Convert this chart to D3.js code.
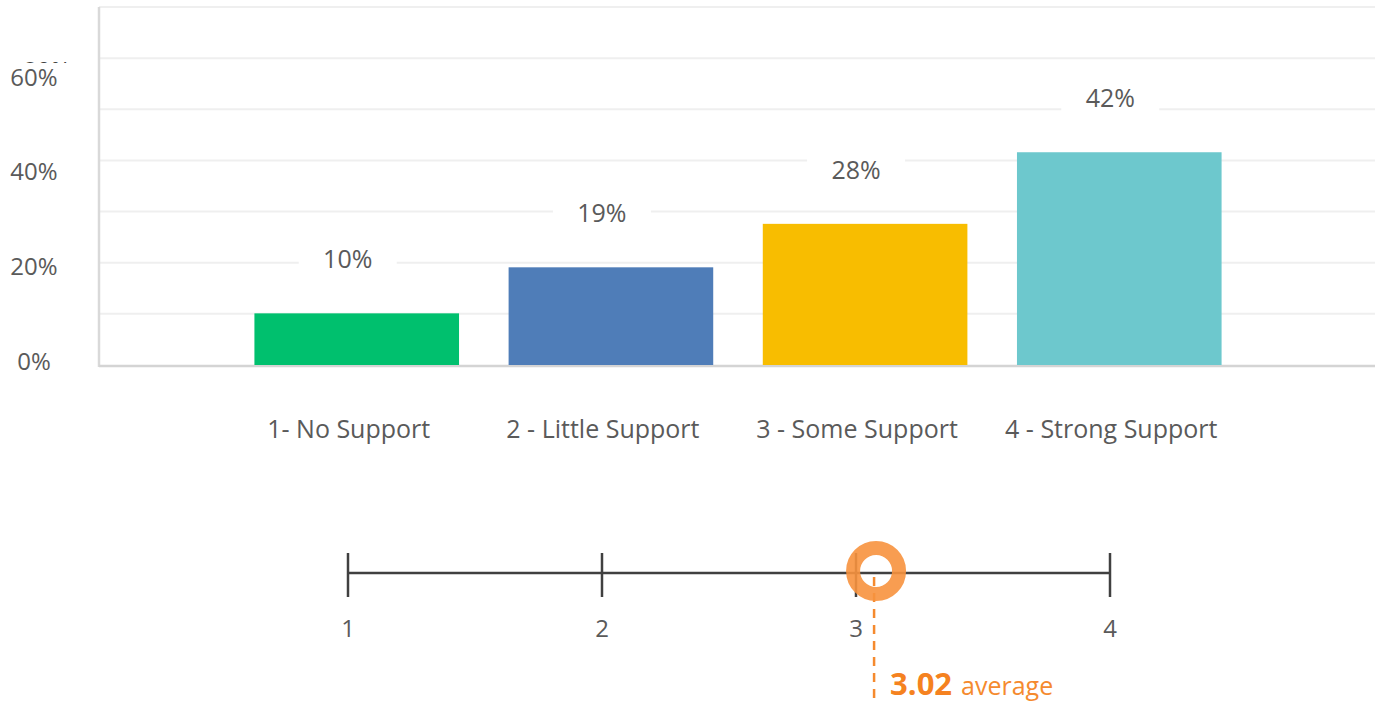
<!DOCTYPE html>
<html><head><meta charset="utf-8">
<script src="https://cdn.jsdelivr.net/npm/d3@7"></script>
<style>
html,body{margin:0;padding:0;background:#fff;}
svg{display:block;font-family:"Open Sans",sans-serif;}
</style></head>
<body><svg id="c" width="1378" height="704"></svg>
<script>
const categories = ["1- No Support","2 - Little Support","3 - Some Support","4 - Strong Support"];
const values = [10.1, 19.1, 27.6, 41.6];
const colors = ["#00c06e","#4f7db8","#f8bd00","#6dc8cd"];
const yTickLabels = [0, 20, 40, 60];
const gridValues = [0,10,20,30,40,50,60,70];
const scaleTicks = [1,2,3,4];
const average = 3.02;

const svg = d3.select("#c");
const y = d3.scaleLinear().domain([0,70]).range([365,7]);
const yLab = d3.scaleLinear().domain([0,60]).range([360,76]);
const x = d3.scaleBand().domain(categories).range([229,1247]).paddingInner(0.195).paddingOuter(0.1);
const plotL = 99, plotR = 1375;
const txt = "#5a5a5a";

// gridlines
svg.append("g").selectAll("line").data(gridValues.filter(d=>d>0)).join("line")
  .attr("x1",plotL).attr("x2",plotR).attr("y1",d=>y(d)).attr("y2",d=>y(d))
  .attr("stroke","#efefef").attr("stroke-width",2);

// y axis line
svg.append("line").attr("x1",plotL).attr("x2",plotL).attr("y1",y(70)).attr("y2",y(0)+2)
  .attr("stroke","#d9d9d9").attr("stroke-width",2.5);
// baseline
svg.append("line").attr("x1",plotL).attr("x2",plotR).attr("y1",y(0)+1).attr("y2",y(0)+1)
  .attr("stroke","#d4d4d4").attr("stroke-width",2.5);

// partially hidden overlapping tick label (80%) as in the source
svg.append("text").attr("x",47).attr("y",yLab(60)-7).attr("text-anchor","middle")
  .attr("dominant-baseline","central").attr("font-size",24).attr("fill","#404040").text("80%");
// y labels
const yl = svg.append("g").selectAll("g").data(yTickLabels).join("g");
yl.append("rect").attr("x",6).attr("width",72).attr("y",d=>yLab(d)-13).attr("height",30).attr("fill","#fff");
yl.append("text").attr("x",34).attr("y",d=>yLab(d)).attr("text-anchor","middle")
  .attr("dominant-baseline","central").attr("font-size",24).attr("fill",txt).text(d=>d+"%");

// bars
svg.append("g").selectAll("rect").data(values).join("rect")
  .attr("x",(d,i)=>x(categories[i])).attr("width",x.bandwidth())
  .attr("y",d=>y(d)).attr("height",d=>y(0)-y(d)).attr("fill",(d,i)=>colors[i]);

// value labels with white boxes
const lab = svg.append("g").selectAll("g").data(values).join("g")
  .attr("transform",(d,i)=>`translate(${x(categories[i])+x.bandwidth()/2-9},${y(d+10.8)})`);
lab.append("rect").attr("x",-49).attr("width",98).attr("y",-19).attr("height",38).attr("fill","#fff");
lab.append("text").attr("text-anchor","middle").attr("dominant-baseline","central")
  .attr("font-size",25).attr("fill",txt).text(d=>Math.round(d)+"%");

// category labels
svg.append("g").selectAll("text").data(categories).join("text")
  .attr("x",d=>x(d)+x.bandwidth()/2-8).attr("y",428).attr("text-anchor","middle")
  .attr("dominant-baseline","central").attr("font-size",25).attr("fill",txt).text(d=>d);

// bottom scale
const s = d3.scaleLinear().domain([1,4]).range([348,1110]);
const sy = 573;
svg.append("line").attr("x1",s(1)).attr("x2",s(4)).attr("y1",sy).attr("y2",sy)
  .attr("stroke","#404040").attr("stroke-width",2.5);
svg.append("g").selectAll("line").data(scaleTicks).join("line")
  .attr("x1",d=>s(d)).attr("x2",d=>s(d)).attr("y1",sy-20).attr("y2",sy+24)
  .attr("stroke","#404040").attr("stroke-width",2.5);
svg.append("g").selectAll("text").data(scaleTicks).join("text")
  .attr("x",d=>s(d)).attr("y",627).attr("text-anchor","middle").attr("dominant-baseline","central")
  .attr("font-size",24).attr("fill",txt).text(d=>d);

const ax = s(average)+15;
svg.append("line").attr("x1",ax-2).attr("x2",ax-2).attr("y1",sy+4).attr("y2",704)
  .attr("stroke","#f58a2e").attr("stroke-width",2.5).attr("stroke-dasharray","9,7");
svg.append("circle").attr("cx",ax).attr("cy",sy-2).attr("r",23)
  .attr("fill","none").attr("stroke","#f7923e").attr("stroke-opacity",0.9).attr("stroke-width",14);

const t = svg.append("text").attr("x",ax+14).attr("y",695);
t.append("tspan").attr("font-size",31).attr("font-weight","bold").attr("fill","#f58220").text(average.toFixed(2));
t.append("tspan").attr("dx",9).attr("font-size",25).attr("fill","#f58a2e").text("average");
</script></body></html>
